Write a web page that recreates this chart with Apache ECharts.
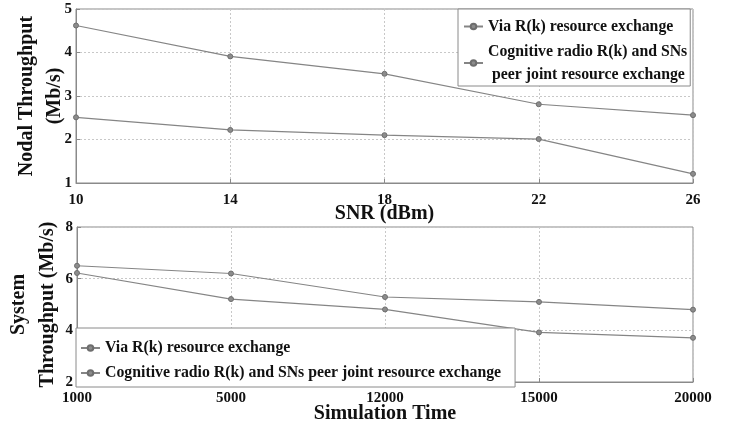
<!DOCTYPE html>
<html>
<head>
<meta charset="utf-8">
<script src="https://cdn.jsdelivr.net/npm/echarts@6/dist/echarts.min.js"></script>
<style>
html,body{margin:0;padding:0;background:#fff;}
#c{width:731px;height:426px;}
</style>
</head>
<body>
<div id="c"></div>
<script>
const snrCategories = ['10', '14', '18', '22', '26'];
const nodalVia = [4.62, 3.91, 3.51, 2.81, 2.56];
const nodalCognitive = [2.51, 2.22, 2.10, 2.01, 1.21];
const timeCategories = ['1000', '5000', '12000', '15000', '20000'];
const systemVia = [6.50, 6.20, 5.29, 5.10, 4.80];
const systemCognitive = [6.22, 5.21, 4.81, 3.92, 3.71];
const nameVia = 'Via R(k) resource exchange';
const nameCog = 'Cognitive radio R(k) and SNs peer joint resource exchange';

const FONT = '"Liberation Serif", "Times New Roman", serif';
const gridLine = {show: true, lineStyle: {color: '#c8c8c8', type: [2, 2], width: 1}};
const axisLabel = {color: '#111', fontFamily: FONT, fontWeight: 'bold', fontSize: 15};
const axisLine = {show: true, lineStyle: {color: '#8a8a8a', width: 1}};
const nameStyle = {color: '#111', fontFamily: FONT, fontWeight: 'bold', fontSize: 20};

function lineSeries(name, data, idx) {
  return {
    name: name, type: 'line', data: data,
    xAxisIndex: idx, yAxisIndex: idx,
    symbol: 'circle', symbolSize: 5, showSymbol: true,
    lineStyle: {color: '#858585', width: 1.2},
    itemStyle: {color: '#8c8c8c', borderColor: '#6e6e6e', borderWidth: 1},
    emphasis: {disabled: true},
    animation: false
  };
}

const chart = echarts.init(document.getElementById('c'));
chart.setOption({
  backgroundColor: '#fff',
  animation: false,
  grid: [
    {left: 76, right: 38, top: 9, height: 174, show: true, borderColor: '#8a8a8a', borderWidth: 1,
     containLabel: false, outerBoundsMode: 'none'},
    {left: 77, right: 38, top: 227, height: 155, show: true, borderColor: '#8a8a8a', borderWidth: 1,
     containLabel: false, outerBoundsMode: 'none'}
  ],
  legend: [
    {
      data: [nameVia, nameCog],
      orient: 'vertical',
      align: 'left',
      left: 458, top: 9,
      padding: [6, 3, 0, 5],
      itemGap: 2,
      itemWidth: 19, itemHeight: 7,
      backgroundColor: '#fff',
      borderColor: '#8a8a8a', borderWidth: 1,
      borderRadius: 0,
      formatter: function (n) {
        return n === nameCog ? 'Cognitive radio R(k) and SNs\n peer joint resource exchange' : n;
      },
      textStyle: {color: '#111', fontFamily: FONT, fontWeight: 'bold', fontSize: 15.8, lineHeight: 23}
    },
    {
      data: [nameVia, nameCog],
      orient: 'vertical',
      align: 'left',
      left: 76, top: 328,
      padding: [10, 14, 4, 4],
      itemGap: 5,
      itemWidth: 19, itemHeight: 7,
      backgroundColor: '#fff',
      borderColor: '#8a8a8a', borderWidth: 1,
      borderRadius: 0,
      textStyle: {color: '#111', fontFamily: FONT, fontWeight: 'bold', fontSize: 15.8, lineHeight: 20}
    }
  ],
  xAxis: [
    {
      gridIndex: 0, type: 'category', data: snrCategories, boundaryGap: false,
      axisLine: axisLine, axisTick: {show: true, inside: true, length: 4, lineStyle: {color: '#8a8a8a'}},
      axisLabel: Object.assign({margin: 10}, axisLabel),
      splitLine: gridLine,
      name: 'SNR (dBm)', nameLocation: 'middle', nameGap: 21, nameMoveOverlap: false, nameTextStyle: nameStyle
    },
    {
      gridIndex: 1, type: 'category', data: timeCategories, boundaryGap: false,
      axisLine: axisLine, axisTick: {show: true, inside: true, length: 4, lineStyle: {color: '#8a8a8a'}},
      axisLabel: Object.assign({margin: 9}, axisLabel),
      splitLine: gridLine,
      name: 'Simulation Time', nameLocation: 'middle', nameGap: 22, nameMoveOverlap: false, nameTextStyle: nameStyle
    }
  ],
  yAxis: [
    {
      gridIndex: 0, type: 'value', min: 1, max: 5, interval: 1,
      axisLine: axisLine, axisTick: {show: true, inside: true, length: 4, lineStyle: {color: '#8a8a8a'}},
      axisLabel: Object.assign({margin: 4}, axisLabel),
      splitLine: gridLine,
      name: 'Nodal Throughput\n(Mb/s)', nameLocation: 'middle', nameGap: 7, nameMoveOverlap: false,
      nameTextStyle: Object.assign({lineHeight: 28}, nameStyle)
    },
    {
      gridIndex: 1, type: 'value', min: 2, max: 8, interval: 2,
      axisLine: axisLine, axisTick: {show: true, inside: true, length: 4, lineStyle: {color: '#8a8a8a'}},
      axisLabel: Object.assign({margin: 4}, axisLabel),
      splitLine: gridLine,
      name: 'System\nThroughput (Mb/s)', nameLocation: 'middle', nameGap: 15, nameMoveOverlap: false,
      nameTextStyle: Object.assign({lineHeight: 29}, nameStyle)
    }
  ],
  series: [
    lineSeries(nameVia, nodalVia, 0),
    lineSeries(nameCog, nodalCognitive, 0),
    lineSeries(nameVia, systemVia, 1),
    lineSeries(nameCog, systemCognitive, 1)
  ]
});
</script>
</body>
</html>
